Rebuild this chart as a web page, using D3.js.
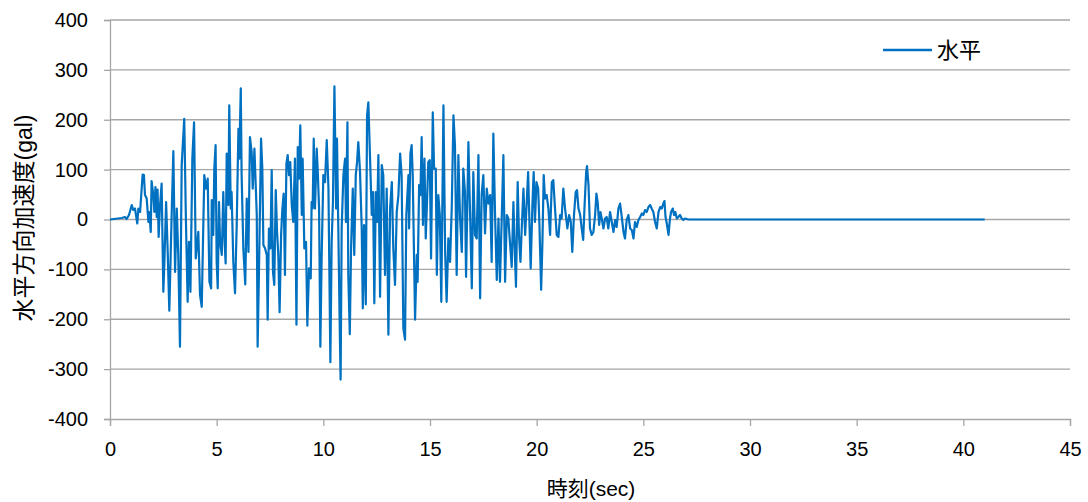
<!DOCTYPE html>
<html><head><meta charset="utf-8">
<script src="https://cdn.jsdelivr.net/npm/d3@7"></script>
<style>body{margin:0;background:#fff}svg{display:block}text{font-family:"Liberation Sans","Noto Sans CJK JP",sans-serif;fill:#000}</style>
</head><body>
<svg id="c" width="1088" height="502"></svg>
<script>
const timeSec = [0,0.55,0.70,0.78,0.89,1.02,1.09,1.17,1.28,1.33,1.41,1.53,1.59,1.64,1.72,1.80,1.84,1.91,1.95,2.03,2.08,2.13,2.19,2.23,2.28,2.34,2.42,2.50,2.55,2.63,2.70,2.78,2.89,2.97,3.05,3.13,3.20,3.28,3.36,3.48,3.56,3.64,3.70,3.77,3.86,3.94,4.02,4.14,4.22,4.30,4.42,4.50,4.58,4.66,4.74,
4.77,4.84,4.89,4.95,5.00,5.05,5.11,5.16,5.24,5.31,5.36,5.42,5.47,5.52,5.55,5.59,5.66,5.70,5.78,5.86,5.94,6.02,6.06,6.13,6.17,6.25,6.34,6.41,6.49,6.56,6.64,6.69,6.77,6.83,6.88,6.92,6.99,7.08,7.14,7.19,7.27,7.35,7.39,7.45,7.52,7.58,7.64,7.70,7.77,7.83,7.89,7.95,8.02,8.08,8.14,8.20,8.27,8.33,8.39,8.45,8.52,8.59,8.67,8.74,8.80,8.86,8.92,8.99,9.03,9.11,9.19,9.25,9.33,9.41,9.45,9.50,9.55,
9.61,9.69,9.74,9.80,9.86,9.92,10.00,10.08,10.16,10.24,10.33,10.39,10.45,10.52,10.60,10.64,10.70,10.77,10.81,10.86,10.94,11.02,11.06,11.13,11.17,11.24,11.30,11.38,11.45,11.52,11.58,11.64,11.72,11.80,11.85,11.91,11.99,12.05,12.11,12.19,12.27,12.33,12.39,12.46,12.52,12.58,12.66,12.74,12.81,12.89,12.97,13.05,13.13,13.21,13.28,13.36,13.44,13.52,13.60,13.67,13.75,13.83,13.89,13.99,
14.02,14.08,14.14,14.19,14.30,14.38,14.42,14.49,14.55,14.61,14.67,14.74,14.80,14.86,14.92,14.99,15.05,15.13,15.19,15.27,15.32,15.39,15.46,15.53,15.63,15.71,15.78,15.86,15.94,16.02,16.10,16.17,16.25,16.33,16.41,16.49,16.56,16.64,16.69,16.80,16.88,16.96,17.03,17.11,17.19,17.27,17.35,17.42,17.50,17.58,17.66,17.74,17.82,17.89,17.97,18.05,18.13,18.21,18.28,18.36,18.44,18.52,18.60,18.67,18.83,18.91,
18.96,19.03,19.11,19.17,19.24,19.30,19.38,19.46,19.52,19.60,19.66,19.72,19.80,19.86,19.92,19.99,20.07,20.13,20.21,20.27,20.33,20.39,20.47,20.55,20.63,20.71,20.78,20.86,20.94,21.02,21.10,21.17,21.25,21.33,21.44,21.52,21.60,21.67,21.75,21.83,21.89,21.96,22.04,22.11,22.18,22.24,22.32,22.36,22.43,22.50,22.58,22.66,22.74,22.80,22.86,22.93,22.99,23.05,23.13,23.21,
23.28,23.36,23.44,23.52,23.60,23.68,23.75,23.83,23.91,23.99,24.07,24.14,24.22,24.30,24.38,24.46,24.54,24.61,24.69,24.77,24.85,24.93,25.00,25.08,25.16,25.24,25.32,25.39,25.47,25.55,25.63,25.71,25.79,25.86,25.94,25.99,26.04,26.10,26.18,26.25,26.30,26.38,26.44,26.50,26.57,26.64,26.72,26.80,26.88,26.95,27.03,27.11,41.0];
const accelGal = [0,3,5,1,9,29,19,22,-8,22,15,90,89,49,42,-5,15,-25,77,49,15,65,5,60,-35,25,72,-145,-85,35,-58,-183,9,137,-105,22,-71,-255,109,202,-5,-165,-45,-145,122,195,-78,-25,-151,-175,89,62,82,-125,-138,
39,-31,102,149,-85,-138,35,-45,-71,55,-31,-88,132,95,29,229,22,55,-85,-148,-11,182,122,263,89,-58,-130,42,-65,165,135,62,142,69,9,-255,-85,162,102,-51,-58,-71,-201,-18,-58,99,-105,-131,59,-25,-71,-186,-31,22,52,-111,112,129,89,115,29,-5,122,-211,145,82,189,9,122,-58,-45,-213,-98,-118,35,22,162,
22,142,95,22,-255,-78,89,75,159,62,-286,-45,35,267,22,162,-11,-218,-321,-18,89,122,-5,195,-111,-230,-58,62,-71,89,115,155,95,-18,-178,-11,-170,209,235,122,9,55,-168,55,-5,129,-155,109,89,-111,62,-231,22,75,-58,-131,15,49,132,89,-218,-241,9,89,
-18,132,149,89,-201,-71,-125,69,49,165,-11,122,-38,35,115,119,-78,215,102,102,-111,49,9,-165,229,-65,-165,-38,-85,25,209,149,-111,129,2,-65,102,55,-115,155,9,-138,95,-31,-38,129,-158,49,89,-28,62,32,49,-85,172,9,-121,2,-125,-1,129,-125,9,2,-95,35,
-45,-135,75,-31,-85,-18,62,-31,22,95,-5,-98,29,95,-5,75,62,-11,-141,-45,89,42,49,22,-31,75,79,22,-31,-35,9,2,62,22,-18,9,-5,-65,9,55,59,22,9,-18,-41,22,95,107,69,-18,-31,-25,9,52,35,-11,15,2,-18,2,
5,-18,15,-5,-25,-1,-15,22,32,5,-25,-38,-1,9,-18,-21,-38,-5,-15,-1,5,12,9,19,15,25,29,22,15,-5,-18,15,25,22,32,37,5,-8,-31,2,15,22,9,15,2,5,9,2,-1,2,1,0,0];
const xTicks = [0,5,10,15,20,25,30,35,40,45];
const yTicks = [-400,-300,-200,-100,0,100,200,300,400];
const seriesName = "水平";
const xTitle = "時刻(sec)";
const yTitle = "水平方向加速度(gal)";

const svg = d3.select("#c");
const L=110, R=1070, T=20, B=419;
const x = d3.scaleLinear().domain([0,45]).range([L,R]);
const y = d3.scaleLinear().domain([-400,400]).range([B,T]);
const grid="#a6a6a6";

// gridlines
svg.append("g").selectAll("line").data(yTicks.filter(d=>d!==-400)).join("line")
  .attr("x1",L).attr("x2",R).attr("y1",d=>y(d)).attr("y2",d=>y(d))
  .attr("stroke",grid).attr("stroke-width",1.3);

// axes
const yAxis = svg.append("g").attr("transform",`translate(${L},0)`)
  .call(d3.axisLeft(y).tickValues(yTicks).tickSize(6).tickPadding(16).tickFormat(d=>String(d)));
const xAxis = svg.append("g").attr("transform",`translate(0,${B})`)
  .call(d3.axisBottom(x).tickValues(xTicks).tickSize(7).tickPadding(16).tickFormat(d=>String(d)));
[yAxis,xAxis].forEach(g=>{
  g.selectAll("path,line").attr("stroke",grid).attr("stroke-width",1.3);
  g.selectAll("text").attr("font-size",20).attr("fill","#000").attr("font-family",'"Liberation Sans",sans-serif');
});

// series
const pts = timeSec.map((t,i)=>[t,accelGal[i]]);
svg.append("path").datum(pts)
  .attr("d",d3.line().x(d=>x(d[0])).y(d=>y(d[1])))
  .attr("fill","none").attr("stroke","#0070C0").attr("stroke-width",2.2).attr("stroke-linejoin","round");

// legend
svg.append("line").attr("x1",883).attr("x2",932).attr("y1",50).attr("y2",50)
  .attr("stroke","#0070C0").attr("stroke-width",2.5);
svg.append("text").attr("x",937).attr("y",58).attr("font-size",22).text(seriesName);

// titles
svg.append("text").attr("x",591).attr("y",496).attr("text-anchor","middle").attr("font-size",21).text(xTitle);
svg.append("text").attr("transform","translate(32,218) rotate(-90)").attr("text-anchor","middle").attr("font-size",23).text(yTitle);
</script>
</body></html>
